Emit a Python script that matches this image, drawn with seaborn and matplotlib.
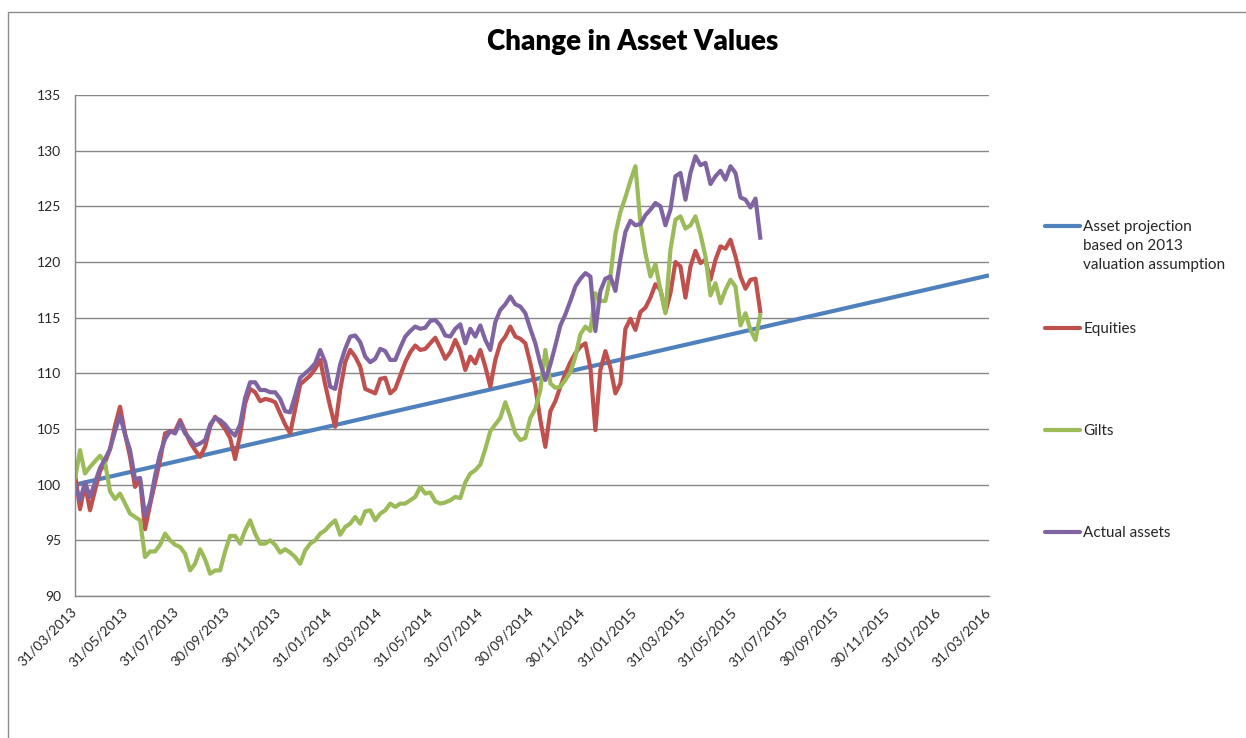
import matplotlib
matplotlib.use("Agg")
import matplotlib.pyplot as plt
from matplotlib.lines import Line2D
from matplotlib.patches import Rectangle
import pandas as pd
import seaborn as sns

# ---------------- data ----------------
TITLE = "Change in Asset Values"
SERIES_NAMES = ["Asset projection", "Equities", "Gilts", "Actual assets"]
FIRST_LABEL_EXTRA = ["based on 2013", "valuation assumption"]
COLORS = ["#4F81BD", "#C0504D", "#9BBB59", "#8064A2"]

projection_dates = ["31/03/2013", "31/03/2014", "31/03/2015", "31/03/2016"]
projection_values = [100.0, 106.27, 112.53, 118.8]

series_start = "31/03/2013"
series_step_days = 6

equities = [
    101.0, 97.8, 100.0, 97.7, 99.5, 101.2, 102.0, 103.2, 105.3, 107.0,
    104.6, 102.5, 99.8, 100.5, 96.0, 98.2, 100.2, 102.2, 104.6, 104.8,
    104.8, 105.8, 104.8, 103.8, 103.1, 102.5, 103.4, 105.2, 106.1, 105.6,
    105.0, 104.2, 102.3, 104.5, 107.3, 108.6, 108.3, 107.5, 107.7, 107.6,
    107.4, 106.4, 105.4, 104.6, 106.8, 109.0, 109.4, 109.8, 110.4, 111.2,
    109.0, 107.0, 105.2, 108.5, 111.0, 112.1, 111.5, 110.6, 108.6, 108.4,
    108.2, 109.5, 109.6, 108.2, 108.6, 109.8, 111.0, 111.9, 112.5, 112.1,
    112.2, 112.7, 113.2, 112.3, 111.3, 111.9, 113.0, 112.0, 110.3, 111.5,
    110.9, 112.1, 110.6, 108.8, 111.2, 112.7, 113.3, 114.2, 113.3, 113.1,
    112.7, 110.9, 108.8, 105.8, 103.4, 106.6, 107.5, 108.8, 110.0, 111.0,
    111.8, 112.4, 112.7, 110.5, 104.9, 110.3, 112.0, 110.5, 108.2, 109.1,
    114.0, 114.9, 113.9, 115.5, 115.9, 116.8, 118.0, 117.5, 115.5, 117.2,
    120.0, 119.6, 116.8, 119.6, 121.0, 119.9, 120.2, 118.4, 120.2, 121.4,
    121.2, 122.0, 120.5, 118.7, 117.6, 118.4, 118.5, 115.4,
]

gilts = [
    100.5, 103.1, 101.0, 101.6, 102.1, 102.6, 102.0, 99.4, 98.7, 99.2,
    98.3, 97.4, 97.1, 96.8, 93.5, 94.0, 94.0, 94.6, 95.6, 95.0,
    94.6, 94.4, 93.8, 92.3, 92.9, 94.2, 93.3, 92.0, 92.3, 92.3,
    94.0, 95.4, 95.4, 94.7, 95.9, 96.8, 95.6, 94.7, 94.7, 95.0,
    94.6, 93.9, 94.2, 93.9, 93.5, 92.9, 94.1, 94.7, 95.0, 95.6,
    95.9, 96.4, 96.8, 95.5, 96.2, 96.5, 97.1, 96.5, 97.6, 97.7,
    96.8, 97.4, 97.7, 98.3, 98.0, 98.3, 98.3, 98.6, 98.9, 99.8,
    99.2, 99.3, 98.5, 98.3, 98.4, 98.6, 98.9, 98.8, 100.2, 101.0,
    101.3, 101.8, 103.2, 104.8, 105.4, 106.0, 107.4, 106.1, 104.6, 104.0,
    104.2, 106.0, 106.8, 108.5, 112.1, 109.1, 108.7, 108.8, 109.4, 110.1,
    111.5, 113.5, 114.2, 113.8, 117.2, 116.5, 116.5, 118.7, 122.5, 124.5,
    125.8, 127.3, 128.6, 123.5, 120.8, 118.7, 119.8, 117.5, 115.4, 121.1,
    123.8, 124.1, 123.0, 123.3, 124.1, 122.5, 120.5, 117.0, 118.1, 116.3,
    117.5, 118.4, 117.8, 114.3, 115.4, 113.9, 113.0, 115.4,
]

actual_assets = [
    100.0, 98.6, 100.2, 98.9, 100.2, 101.5, 102.3, 103.2, 104.8, 106.2,
    104.5, 103.1, 100.5, 100.6, 97.2, 98.4, 100.8, 102.8, 104.1, 104.8,
    104.6, 105.6, 104.6, 104.1, 103.5, 103.7, 104.0, 105.4, 106.0, 105.8,
    105.4, 104.8, 104.4, 105.4, 107.8, 109.2, 109.2, 108.5, 108.5, 108.3,
    108.3, 107.7, 106.6, 106.5, 108.0, 109.6, 110.0, 110.4, 110.9, 112.1,
    111.0, 108.8, 108.6, 110.8, 112.2, 113.3, 113.4, 112.8, 111.5, 111.0,
    111.3, 112.2, 112.0, 111.2, 111.2, 112.3, 113.3, 113.8, 114.2, 114.0,
    114.1, 114.7, 114.8, 114.3, 113.4, 113.3, 114.0, 114.4, 112.7, 114.0,
    113.3, 114.3, 113.0, 112.1, 114.6, 115.7, 116.2, 116.9, 116.2, 116.0,
    115.4, 114.0, 112.7, 110.9, 109.4, 110.8, 112.5, 114.3, 115.3, 116.5,
    117.8, 118.5, 119.0, 118.7, 113.8, 117.4, 118.5, 118.7, 117.4, 120.3,
    122.7, 123.7, 123.3, 123.4, 124.2, 124.7, 125.3, 125.0, 123.3, 124.7,
    127.7, 128.0, 125.6, 128.0, 129.5, 128.7, 128.9, 127.0, 127.7, 128.2,
    127.4, 128.6, 128.0, 125.8, 125.6, 124.9, 125.7, 122.0,
]

x_tick_labels = [
    "31/03/2013", "31/05/2013", "31/07/2013", "30/09/2013", "30/11/2013",
    "31/01/2014", "31/03/2014", "31/05/2014", "31/07/2014", "30/09/2014",
    "30/11/2014", "31/01/2015", "31/03/2015", "31/05/2015", "31/07/2015",
    "30/09/2015", "30/11/2015", "31/01/2016", "31/03/2016",
]
y_ticks = [90, 95, 100, 105, 110, 115, 120, 125, 130, 135]

# ---------------- build table ----------------
start = pd.to_datetime(series_start, dayfirst=True)


def series_frame(name, values):
    dates = pd.date_range(start, periods=len(values), freq=f"{series_step_days}D")
    return pd.DataFrame({"date": dates, "value": values, "series": name})


df = pd.concat([
    pd.DataFrame({"date": pd.to_datetime(projection_dates, dayfirst=True),
                  "value": projection_values, "series": SERIES_NAMES[0]}),
    series_frame(SERIES_NAMES[1], equities),
    series_frame(SERIES_NAMES[2], gilts),
    series_frame(SERIES_NAMES[3], actual_assets),
], ignore_index=True)

# ---------------- style ----------------
sns.set_style("white")
plt.rcParams["font.family"] = ["Lato", "DejaVu Sans"]

W, H = 1246, 738
fig = plt.figure(figsize=(W / 100, H / 100), dpi=100)
ax = fig.add_axes([75 / W, 1 - 596 / H, (989 - 75) / W, (596 - 95) / H])

LW = 3.0
sns.lineplot(data=df, x="date", y="value", hue="series", hue_order=SERIES_NAMES,
             palette=COLORS, linewidth=LW, legend=False, estimator=None,
             sort=False, ax=ax)
for ln in ax.get_lines():
    ln.set_solid_joinstyle("round")
    ln.set_solid_capstyle("butt")

tick_dates = pd.to_datetime(x_tick_labels, dayfirst=True)
ax.set_xlim(tick_dates[0], tick_dates[-1])
ax.set_xticks(tick_dates)
ax.set_xticklabels(x_tick_labels, rotation=45, ha="right", va="center",
                   rotation_mode="anchor", fontsize=10, color="#262626")
ax.set_ylim(y_ticks[0], y_ticks[-1])
ax.set_yticks(y_ticks)
ax.set_yticklabels([str(v) for v in y_ticks], fontsize=10, color="#262626")
ax.set_xlabel("")
ax.set_ylabel("")

GRID = "#878787"
ax.yaxis.grid(True, color=GRID, linewidth=1.0)
ax.xaxis.grid(False)
ax.set_axisbelow(True)
for side in ["top", "right"]:
    ax.spines[side].set_visible(False)
for side in ["left", "bottom"]:
    ax.spines[side].set_color(GRID)
    ax.spines[side].set_linewidth(1.0)
ax.tick_params(axis="both", which="major", direction="out", length=4,
               width=1, color=GRID)
ax.tick_params(axis="y", pad=6)
ax.tick_params(axis="x", pad=6)

fig.text(633 / W, 1 - 42 / H, TITLE, ha="center", va="center",
         fontsize=20, fontweight="heavy", color="#000000")

# legend
handles = [Line2D([], [], color=c, linewidth=LW) for c in COLORS]
LEG_FS = 11
leg = fig.legend(handles, SERIES_NAMES, loc="upper left",
                 bbox_to_anchor=(1045 / W, 1 - 220 / H), frameon=False,
                 fontsize=LEG_FS, handlelength=2.3, handletextpad=0.2,
                 labelspacing=5.77, borderpad=0, borderaxespad=0)
for t in leg.get_texts():
    t.set_color("#262626")

fig.canvas.draw()
bb = leg.get_texts()[0].get_window_extent()
inv = fig.transFigure.inverted()
x0, y0 = inv.transform((bb.x0, bb.y0))
for i, line in enumerate(FIRST_LABEL_EXTRA, start=1):
    fig.text(x0, y0 - i * 19 / H, line, ha="left", va="bottom",
             fontsize=LEG_FS, color="#262626")

# outer chart-area border (partially visible in the reference)
fig.patches.append(Rectangle((8 / W, -0.2), 1.5, 1.2 - 12 / H,
                             transform=fig.transFigure, fill=False,
                             edgecolor="#8c8c8c", linewidth=1.0))

fig.savefig("out.png", dpi=100, facecolor="white")
